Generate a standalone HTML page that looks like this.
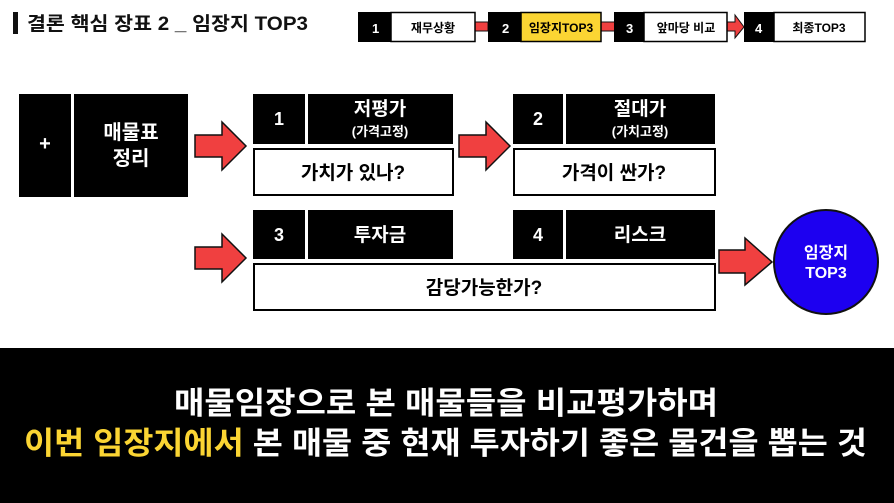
<!DOCTYPE html>
<html><head><meta charset="utf-8"><style>
html,body{margin:0;padding:0;background:#fff;}
svg{display:block;}
text{font-family:"Liberation Sans","Noto Sans CJK KR",sans-serif;font-weight:bold;}
</style></head><body>
<svg width="894" height="503" viewBox="0 0 894 503" xmlns="http://www.w3.org/2000/svg">
<rect x="0" y="0" width="894" height="503" fill="#fff"/>
<!-- title -->
<rect x="13" y="12" width="5" height="22" fill="#111"/>
<text x="27" y="30" font-size="19" fill="#111" textLength="281" lengthAdjust="spacingAndGlyphs">결론 핵심 장표 2 _ 임장지 TOP3</text>
<!-- nav -->
<rect x="470" y="22" width="18" height="9" fill="#f04040" stroke="#111" stroke-width="1"/>
<rect x="600" y="22" width="16" height="9" fill="#f04040" stroke="#111" stroke-width="1"/>
<polygon points="725,22 735,22 735,15 744,27 735,38 735,31 725,31" fill="#f04040" stroke="#111" stroke-width="1"/>
<rect x="358" y="12" width="33" height="30" fill="#000"/>
<rect x="391" y="12.5" width="84" height="29" fill="#fff" stroke="#000" stroke-width="1.5"/>
<text x="372" y="33" font-size="13" fill="#fff">1</text>
<text x="433" y="32" font-size="12" fill="#000" text-anchor="middle">재무상황</text>
<rect x="488" y="12" width="33" height="30" fill="#000"/>
<rect x="521" y="12.5" width="80" height="29" fill="#fbd533" stroke="#000" stroke-width="1.5"/>
<text x="502" y="33" font-size="13" fill="#fff">2</text>
<text x="561" y="32" font-size="12" fill="#000" text-anchor="middle">임장지TOP3</text>
<rect x="614" y="12" width="31" height="30" fill="#000"/>
<rect x="644" y="12.5" width="83" height="29" fill="#fff" stroke="#000" stroke-width="1.5"/>
<text x="626" y="33" font-size="13" fill="#fff">3</text>
<text x="686" y="32" font-size="12" fill="#000" text-anchor="middle">앞마당 비교</text>
<rect x="744" y="12" width="31" height="30" fill="#000"/>
<rect x="774" y="12.5" width="91" height="29" fill="#fff" stroke="#000" stroke-width="1.5"/>
<text x="755" y="33" font-size="13" fill="#fff">4</text>
<text x="819" y="32" font-size="12" fill="#000" text-anchor="middle">최종TOP3</text>
<!-- left -->
<rect x="19" y="94" width="52" height="103" fill="#000"/>
<text x="45" y="150" font-size="20" fill="#fff" text-anchor="middle">+</text>
<rect x="74" y="94" width="114" height="103" fill="#000"/>
<text x="131" y="139" font-size="20" fill="#fff" text-anchor="middle">매물표</text>
<text x="131" y="165" font-size="20" fill="#fff" text-anchor="middle">정리</text>
<!-- arrows -->
<g fill="#f04040" stroke="#111" stroke-width="1.5">
<polygon points="195,135 222,135 222,122 246,146 222,170 222,157 195,157"/>
<polygon points="459,135 486,135 486,122 510,146 486,170 486,157 459,157"/>
<polygon points="195,247 222,247 222,234 246,258 222,282 222,269 195,269"/>
<polygon points="719,250 745,250 745,238 772,262 745,285 745,273 719,273"/>
</g>
<!-- box 1 -->
<rect x="253" y="94" width="52" height="50" fill="#000"/>
<text x="279" y="125" font-size="18" fill="#fff" text-anchor="middle">1</text>
<rect x="308" y="94" width="145" height="50" fill="#000"/>
<text x="380" y="115" font-size="19" fill="#fff" text-anchor="middle">저평가</text>
<text x="380" y="136" font-size="13" fill="#fff" text-anchor="middle">(가격고정)</text>
<rect x="254" y="149" width="199" height="46" fill="#fff" stroke="#000" stroke-width="2"/>
<text x="353" y="179" font-size="19" fill="#000" text-anchor="middle">가치가 있나?</text>
<!-- box 2 -->
<rect x="513" y="94" width="50" height="50" fill="#000"/>
<text x="538" y="125" font-size="18" fill="#fff" text-anchor="middle">2</text>
<rect x="566" y="94" width="149" height="50" fill="#000"/>
<text x="640" y="115" font-size="19" fill="#fff" text-anchor="middle">절대가</text>
<text x="640" y="136" font-size="13" fill="#fff" text-anchor="middle">(가치고정)</text>
<rect x="514" y="149" width="201" height="46" fill="#fff" stroke="#000" stroke-width="2"/>
<text x="614" y="179" font-size="19" fill="#000" text-anchor="middle">가격이 싼가?</text>
<!-- row 2 -->
<rect x="253" y="210" width="52" height="49" fill="#000"/>
<text x="279" y="241" font-size="18" fill="#fff" text-anchor="middle">3</text>
<rect x="308" y="210" width="145" height="49" fill="#000"/>
<text x="380" y="241" font-size="19" fill="#fff" text-anchor="middle">투자금</text>
<rect x="513" y="210" width="50" height="49" fill="#000"/>
<text x="538" y="241" font-size="18" fill="#fff" text-anchor="middle">4</text>
<rect x="566" y="210" width="149" height="49" fill="#000"/>
<text x="640" y="241" font-size="19" fill="#fff" text-anchor="middle">리스크</text>
<rect x="254" y="264" width="461" height="46" fill="#fff" stroke="#000" stroke-width="2"/>
<text x="484" y="294" font-size="19" fill="#000" text-anchor="middle">감당가능한가?</text>
<!-- circle -->
<circle cx="826" cy="262" r="52" fill="#1d00f0" stroke="#111" stroke-width="2"/>
<text x="826" y="258" font-size="16" fill="#fff" text-anchor="middle">임장지</text>
<text x="826" y="278" font-size="16" fill="#fff" text-anchor="middle">TOP3</text>
<!-- bottom band -->
<rect x="0" y="348" width="894" height="155" fill="#000"/>
<text x="446" y="414" font-size="31" fill="#fff" text-anchor="middle" textLength="544" lengthAdjust="spacingAndGlyphs">매물임장으로 본 매물들을 비교평가하며</text>
<text x="24" y="454" font-size="31" textLength="843" lengthAdjust="spacingAndGlyphs"><tspan fill="#fbd533">이번 임장지에서</tspan><tspan fill="#fff"> 본 매물 중 현재 투자하기 좋은 물건을 뽑는 것</tspan></text>
</svg>
</body></html>
